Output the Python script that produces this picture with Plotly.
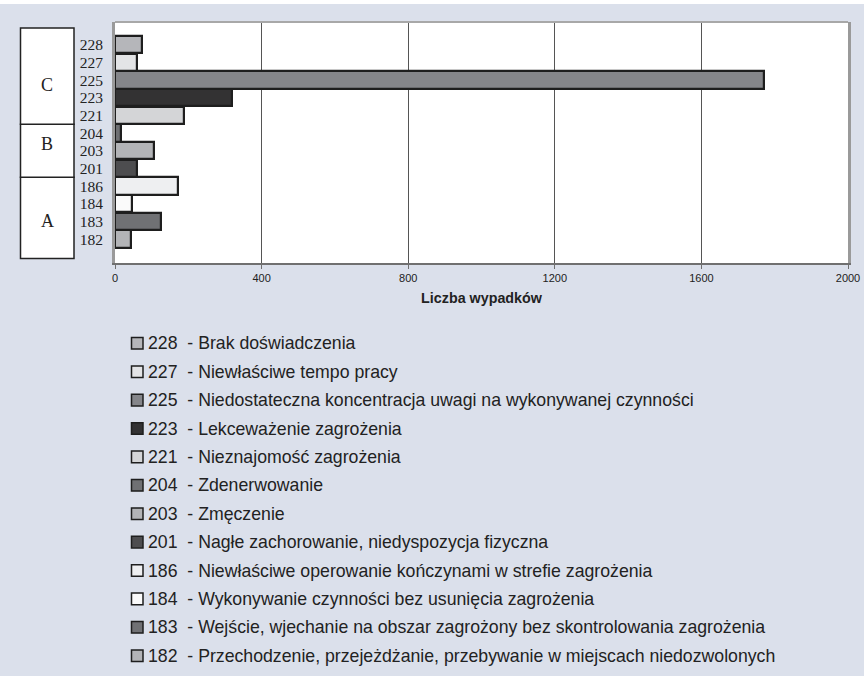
import plotly.graph_objects as go

# ---- data (bottom to top, as drawn on the axis) ----
codes = ["182", "183", "184", "186", "201", "203", "204", "221", "223", "225", "227", "228"]
accidents = [45, 125, 46, 171, 61, 107, 17, 188, 320, 1770, 61, 73]
descriptions = [
    "Przechodzenie, przejeżdżanie, przebywanie w miejscach niedozwolonych",
    "Wejście, wjechanie na obszar zagrożony bez skontrolowania zagrożenia",
    "Wykonywanie czynności bez usunięcia zagrożenia",
    "Niewłaściwe operowanie kończynami w strefie zagrożenia",
    "Nagłe zachorowanie, niedyspozycja fizyczna",
    "Zmęczenie",
    "Zdenerwowanie",
    "Nieznajomość zagrożenia",
    "Lekceważenie zagrożenia",
    "Niedostateczna koncentracja uwagi na wykonywanej czynności",
    "Niewłaściwe tempo pracy",
    "Brak doświadczenia",
]
groups = ["A", "B", "C"]
group_ranges = [("182", "186"), ("201", "204"), ("221", "228")]
x_ticks = [0, 400, 800, 1200, 1600, 2000]
x_title = "Liczba wypadków"

# ---- styles ----
bar_colors = ["#b3b4b7", "#707174", "#fafafa", "#eeeff1", "#4d4d4f", "#b3b4b7",
              "#6f7073", "#d4d5d7", "#333233", "#85868a", "#e3e4e6", "#b5b6ba"]
BG = "#dbe0eb"
W, H = 864, 676
L, R, T, B = 115, 16, 22, 413
PW, PH = W - L - R, H - T - B


def px_x(px):
    return (px - L) / PW


def px_y(py):
    return (H - B - py) / PH


fig = go.Figure()
fig.add_trace(go.Bar(
    y=codes, x=accidents, orientation="h",
    marker=dict(color=bar_colors, line=dict(color="#1e1e1e", width=2.2)),
    width=0.98, showlegend=False, hoverinfo="x+y",
))

shapes = []
annotations = []

# white strip at top of the picture
shapes.append(dict(type="rect", xref="paper", yref="paper",
                   x0=px_x(0), x1=px_x(W), y0=px_y(4), y1=px_y(-2),
                   fillcolor="white", line=dict(width=0), layer="below"))
# top border of plot
shapes.append(dict(type="line", xref="paper", yref="paper", x0=0, x1=1, y0=1, y1=1,
                   line=dict(color="#a8a8a8", width=2)))

# group boxes on the left
idx = {c: i for i, c in enumerate(codes)}
n = len(codes)
for gi, (g, (lo, hi)) in enumerate(zip(groups, group_ranges)):
    y0 = idx[lo] - 0.5
    y1 = idx[hi] + 0.5
    if gi == 0:
        y0 = -1.1
    if gi == len(groups) - 1:
        y1 = n - 1 + 0.95
    shapes.append(dict(type="rect", xref="paper", yref="y",
                       x0=px_x(20.5), x1=px_x(74), y0=y0, y1=y1,
                       fillcolor="white", line=dict(color="#222222", width=1.5)))
label_pos = {"A": 1.02, "B": 5.4, "C": 8.73}
for g in groups:
    annotations.append(dict(xref="paper", yref="y", x=px_x(47), y=label_pos[g],
                            text=g, showarrow=False, xanchor="center", yanchor="middle",
                            font=dict(family="Liberation Serif", size=18, color="#222222")))

# legend (top to bottom)
row0, step = 343.3, 28.4
for k, i in enumerate(reversed(range(n))):
    cy = row0 + k * step
    shapes.append(dict(type="rect", xref="paper", yref="paper",
                       x0=px_x(131.5), x1=px_x(143), y0=px_y(cy + 5.8), y1=px_y(cy - 5.8),
                       fillcolor=bar_colors[i], line=dict(color="#1e1e1e", width=1.5)))
    annotations.append(dict(xref="paper", yref="paper", x=px_x(145.5), y=px_y(cy),
                            text=f"{codes[i]}\u00a0\u00a0-\u00a0{descriptions[i]}",
                            showarrow=False, xanchor="left", yanchor="middle",
                            font=dict(family="Liberation Sans", size=17.7, color="#222222")))

fig.update_layout(
    width=W, height=H,
    margin=dict(l=L, r=R, t=T, b=B, pad=0),
    paper_bgcolor=BG, plot_bgcolor="white",
    shapes=shapes, annotations=annotations,
    bargap=0,
    xaxis=dict(range=[0, 2000], tickvals=x_ticks, ticktext=[str(v) for v in x_ticks],
               showgrid=True, gridcolor="#555555", gridwidth=1, zeroline=False,
               showline=True, linecolor="#707070", linewidth=2,
               ticks="outside", ticklen=4, tickcolor="#707070", tickwidth=1,
               tickfont=dict(family="Liberation Sans", size=11, color="#222222"),
               title=dict(text=f"<b>{x_title}</b>", standoff=10,
                          font=dict(family="Liberation Sans", size=14.3, color="#222222")),
               automargin=False, fixedrange=True),
    yaxis=dict(type="category", categoryorder="array", categoryarray=codes,
               tickmode="array", tickvals=codes, ticktext=codes,
               range=[-1.35, n + 0.29], showgrid=False, zeroline=False,
               showline=True, mirror=True, linecolor="#9a9a9a", linewidth=3,
               ticks="", ticklabelstandoff=6,
               tickfont=dict(family="Liberation Serif", size=15.5, color="#222222"),
               automargin=False, fixedrange=True),
)

fig.write_html("out.html", config={"displayModeBar": False},
               post_script="document.body.style.margin='0';document.body.style.padding='0';")
